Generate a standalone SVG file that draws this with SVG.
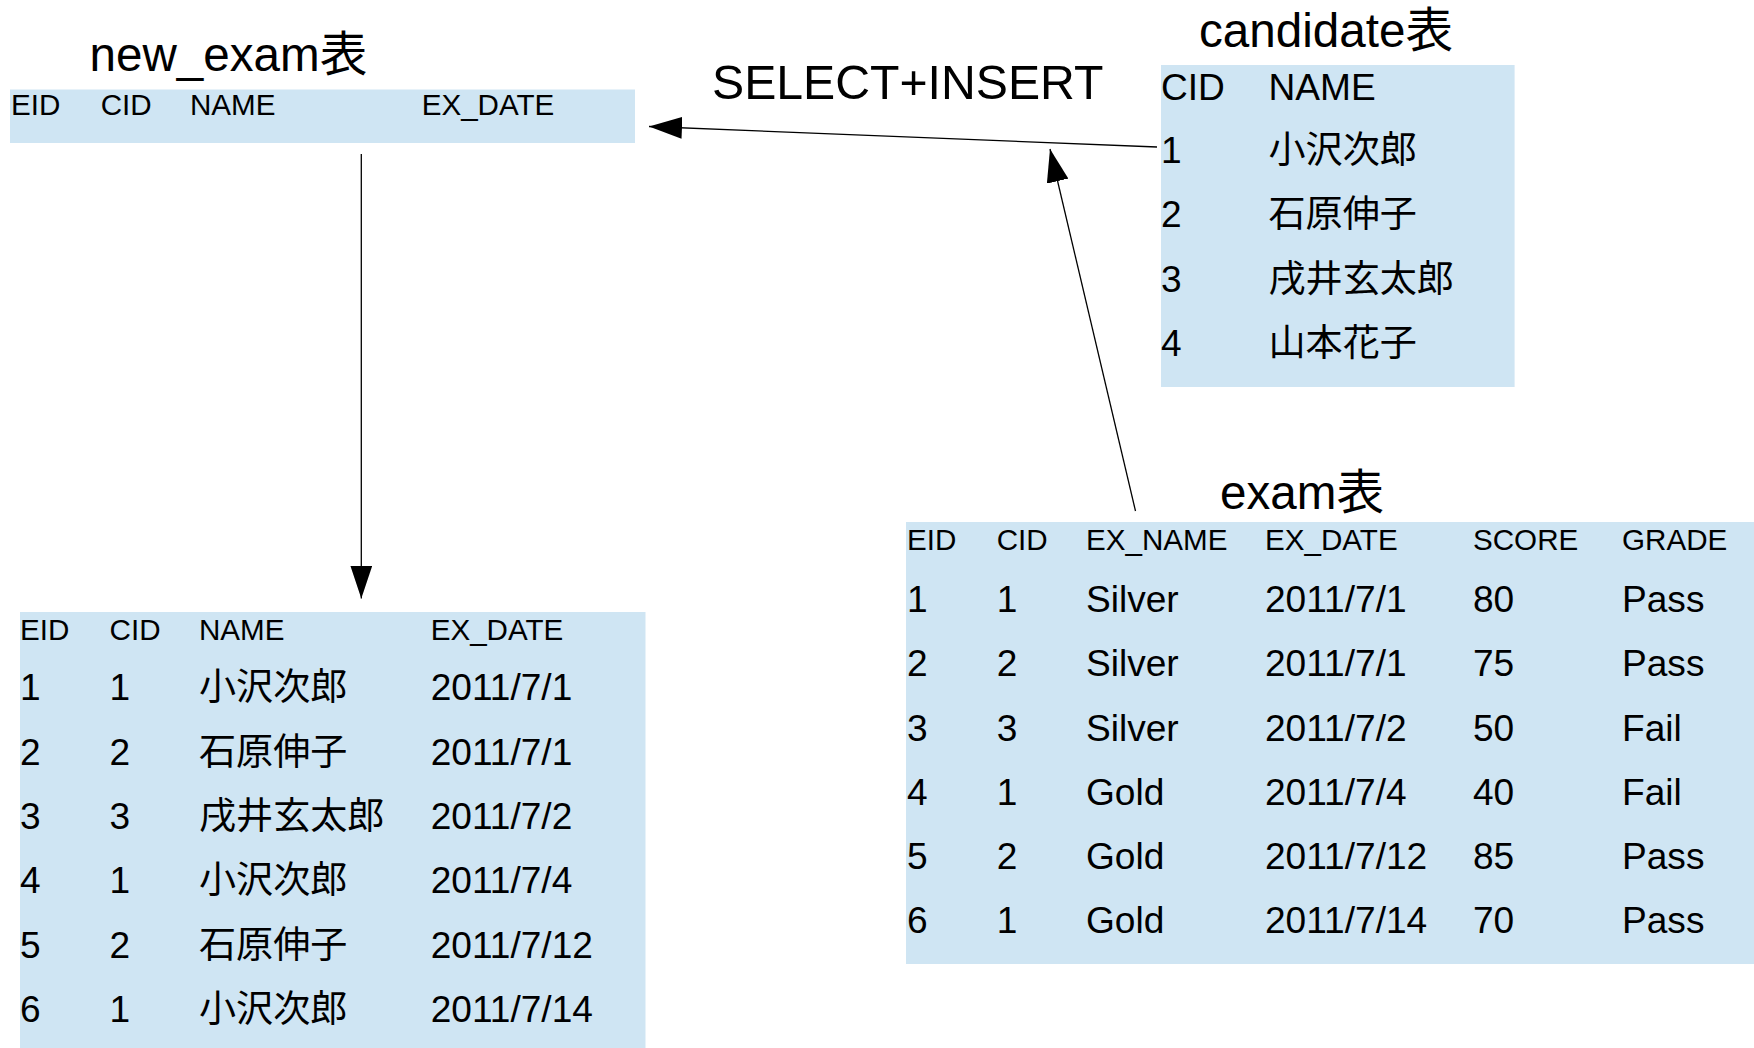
<svg xmlns="http://www.w3.org/2000/svg" width="1754" height="1048" viewBox="0 0 1754 1048">
<style>
text { font-family: "Liberation Sans", "Noto Sans CJK JP", sans-serif; fill: #000; }
.title { font-size: 47.6px; }
.big { font-size: 48.2px; }
.hdr { font-size: 29.6px; }
.dat { font-size: 37.1px; }
.tbl { fill: #cfe5f3; }
.conn { stroke: #000; stroke-width: 1.3; fill: none; marker-end: url(#arr); }
</style>
<defs>
<marker id="arr" viewBox="0 0 33 22" refX="33" refY="11" markerWidth="33" markerHeight="22" markerUnits="userSpaceOnUse" orient="auto">
<path d="M0,0 L33,11 L0,22 z" fill="#000"/>
</marker>
</defs>
<rect width="1754" height="1048" fill="#fff"/>

<g id="new_exam_header">
<text class="title" x="89.5" y="70.5">new_exam表</text>
<rect class="tbl" x="10" y="89.5" width="625" height="53.5"/>
<text class="hdr" x="11" y="115">EID</text>
<text class="hdr" x="100.7" y="115">CID</text>
<text class="hdr" x="190" y="115">NAME</text>
<text class="hdr" x="421.7" y="115">EX_DATE</text>
</g>

<g id="label_select_insert">
<text class="big" x="712" y="98.5">SELECT+INSERT</text>
</g>

<g id="candidate">
<text class="title" x="1199" y="47">candidate表</text>
<rect class="tbl" x="1161" y="65" width="353.6" height="322"/>
<text class="dat" x="1161" y="99.6">CID</text>
<text class="dat" x="1268.5" y="99.6">NAME</text>
<text class="dat" x="1161" y="163">1</text>
<text class="dat" x="1268.5" y="163">小沢次郎</text>
<text class="dat" x="1161" y="227">2</text>
<text class="dat" x="1268.5" y="227">石原伸子</text>
<text class="dat" x="1161" y="292">3</text>
<text class="dat" x="1268.5" y="292">戌井玄太郎</text>
<text class="dat" x="1161" y="356">4</text>
<text class="dat" x="1268.5" y="356">山本花子</text>
</g>

<g id="exam">
<text class="title" x="1220" y="509">exam表</text>
<rect class="tbl" x="906" y="522" width="848" height="442"/>
<text class="hdr" x="907" y="550">EID</text>
<text class="hdr" x="996.7" y="550">CID</text>
<text class="hdr" x="1086" y="550">EX_NAME</text>
<text class="hdr" x="1265" y="550">EX_DATE</text>
<text class="hdr" x="1473" y="550">SCORE</text>
<text class="hdr" x="1622" y="550">GRADE</text>
<text class="dat" x="907" y="612">1</text><text class="dat" x="996.7" y="612">1</text><text class="dat" x="1086" y="612">Silver</text><text class="dat" x="1265" y="612">2011/7/1</text><text class="dat" x="1473" y="612">80</text><text class="dat" x="1622" y="612">Pass</text>
<text class="dat" x="907" y="676">2</text><text class="dat" x="996.7" y="676">2</text><text class="dat" x="1086" y="676">Silver</text><text class="dat" x="1265" y="676">2011/7/1</text><text class="dat" x="1473" y="676">75</text><text class="dat" x="1622" y="676">Pass</text>
<text class="dat" x="907" y="740.5">3</text><text class="dat" x="996.7" y="740.5">3</text><text class="dat" x="1086" y="740.5">Silver</text><text class="dat" x="1265" y="740.5">2011/7/2</text><text class="dat" x="1473" y="740.5">50</text><text class="dat" x="1622" y="740.5">Fail</text>
<text class="dat" x="907" y="804.5">4</text><text class="dat" x="996.7" y="804.5">1</text><text class="dat" x="1086" y="804.5">Gold</text><text class="dat" x="1265" y="804.5">2011/7/4</text><text class="dat" x="1473" y="804.5">40</text><text class="dat" x="1622" y="804.5">Fail</text>
<text class="dat" x="907" y="869">5</text><text class="dat" x="996.7" y="869">2</text><text class="dat" x="1086" y="869">Gold</text><text class="dat" x="1265" y="869">2011/7/12</text><text class="dat" x="1473" y="869">85</text><text class="dat" x="1622" y="869">Pass</text>
<text class="dat" x="907" y="933">6</text><text class="dat" x="996.7" y="933">1</text><text class="dat" x="1086" y="933">Gold</text><text class="dat" x="1265" y="933">2011/7/14</text><text class="dat" x="1473" y="933">70</text><text class="dat" x="1622" y="933">Pass</text>
</g>

<g id="new_exam_result">
<rect class="tbl" x="20" y="612" width="625.5" height="436"/>
<text class="hdr" x="20" y="640">EID</text>
<text class="hdr" x="109.6" y="640">CID</text>
<text class="hdr" x="199" y="640">NAME</text>
<text class="hdr" x="430.7" y="640">EX_DATE</text>
<text class="dat" x="20" y="700">1</text><text class="dat" x="109.6" y="700">1</text><text class="dat" x="199" y="700">小沢次郎</text><text class="dat" x="430.7" y="700">2011/7/1</text>
<text class="dat" x="20" y="764.5">2</text><text class="dat" x="109.6" y="764.5">2</text><text class="dat" x="199" y="764.5">石原伸子</text><text class="dat" x="430.7" y="764.5">2011/7/1</text>
<text class="dat" x="20" y="829">3</text><text class="dat" x="109.6" y="829">3</text><text class="dat" x="199" y="829">戌井玄太郎</text><text class="dat" x="430.7" y="829">2011/7/2</text>
<text class="dat" x="20" y="893">4</text><text class="dat" x="109.6" y="893">1</text><text class="dat" x="199" y="893">小沢次郎</text><text class="dat" x="430.7" y="893">2011/7/4</text>
<text class="dat" x="20" y="957.5">5</text><text class="dat" x="109.6" y="957.5">2</text><text class="dat" x="199" y="957.5">石原伸子</text><text class="dat" x="430.7" y="957.5">2011/7/12</text>
<text class="dat" x="20" y="1022">6</text><text class="dat" x="109.6" y="1022">1</text><text class="dat" x="199" y="1022">小沢次郎</text><text class="dat" x="430.7" y="1022">2011/7/14</text>
</g>

<g id="connectors">
<line class="conn" x1="1157" y1="147" x2="649" y2="126.5"/>
<line class="conn" x1="1135.5" y1="511" x2="1050" y2="149"/>
<line class="conn" x1="361.3" y1="154" x2="361.3" y2="598.5"/>
</g>
</svg>
